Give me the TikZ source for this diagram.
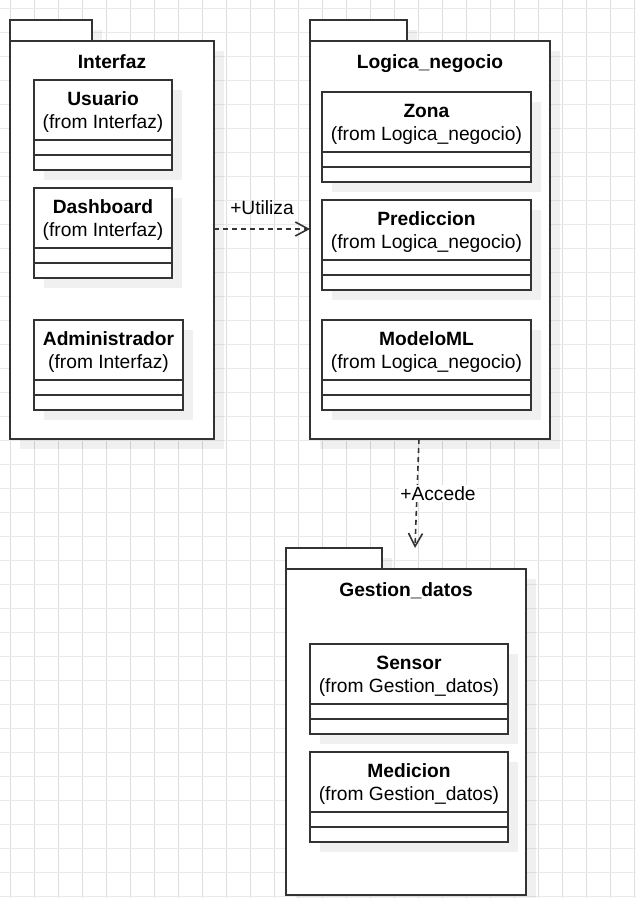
\documentclass[tikz,border=0pt]{standalone}
\usepackage{fontspec}
\setmainfont{Liberation Sans}
\usetikzlibrary{arrows.meta,positioning,shadows}

\definecolor{linec}{HTML}{333333}
\definecolor{gridv}{HTML}{DEDEDE}
\definecolor{gridh}{HTML}{EAEAEA}

\newcommand{\clsname}[1]{\rule{0pt}{18pt}\textbf{#1}}

\begin{document}
\begin{tikzpicture}[
    x=1pt, y=-1pt,
    font=\fontsize{19.2}{22.5}\selectfont,
    castshadow/.style={drop shadow={shadow xshift=10pt, shadow yshift=-10pt, fill=black, opacity=0.06}},
    pkgtab/.style={rectangle, draw=linec, fill=white, line width=1.6pt, inner sep=0pt, outer sep=0pt, anchor=north west, minimum height=21pt, castshadow},
    pkgbody/.style={rectangle, draw=linec, fill=white, line width=1.6pt, inner sep=0pt, outer sep=0pt, anchor=north west, castshadow},
    pkgname/.style={font=\fontsize{19.2}{22.5}\selectfont\bfseries, inner sep=0pt, anchor=base},
    clshead/.style={rectangle, draw=linec, fill=white, line width=1.6pt, inner sep=0pt, outer sep=0pt, align=center, anchor=north west, minimum height=60pt, castshadow},
    clscomp/.style={rectangle, draw=linec, fill=white, line width=1.6pt, inner sep=0pt, outer sep=0pt, minimum height=15pt, castshadow},
    dep/.style={draw=linec, line width=1.6pt, dash pattern=on 5pt off 4pt, -{Straight Barb[length=13pt, width=14pt]}}
]
\useasboundingbox (0,0) rectangle (636,898);
\fill[white] (0,0) rectangle (636,898);

% grid
\foreach \gx in {0,...,26}
  \draw[gridv, line width=1pt] (10.5+24*\gx,0) -- (10.5+24*\gx,898);
\foreach \gy in {0,...,37}
  \draw[gridh, line width=1pt] (0,8+24*\gy) -- (636,8+24*\gy);

% Interfaz
\node[pkgtab, minimum width=82pt] (ifztab) at (10,20) {};
\node[pkgbody, minimum width=204pt, minimum height=398pt] (ifz) at (ifztab.south west) {};
\node[pkgname] (ifzname) at ([yshift=-27pt]ifz.north) {Interfaz};

\node[clshead, minimum width=138pt] (usr) at (34,80) {\clsname{Usuario}\\(from Interfaz)};
\node[clscomp, minimum width=138pt, below=0pt of usr] (usr1) {};
\node[clscomp, minimum width=138pt, below=0pt of usr1] (usr2) {};

\node[clshead, minimum width=138pt] (dsh) at (34,188) {\clsname{Dashboard}\\(from Interfaz)};
\node[clscomp, minimum width=138pt, below=0pt of dsh] (dsh1) {};
\node[clscomp, minimum width=138pt, below=0pt of dsh1] (dsh2) {};

\node[clshead, minimum width=149pt] (adm) at (34,320) {\clsname{Administrador}\\(from Interfaz)};
\node[clscomp, minimum width=149pt, below=0pt of adm] (adm1) {};
\node[clscomp, minimum width=149pt, below=0pt of adm1] (adm2) {};

% Logica_negocio
\node[pkgtab, minimum width=97pt] (lgntab) at (310,20) {};
\node[pkgbody, minimum width=240pt, minimum height=398pt] (lgn) at (lgntab.south west) {};
\node[pkgname] (lgnname) at ([yshift=-27pt]lgn.north) {Logica\_negocio};

\node[clshead, minimum width=209pt] (zon) at (322,92) {\clsname{Zona}\\(from Logica\_negocio)};
\node[clscomp, minimum width=209pt, below=0pt of zon] (zon1) {};
\node[clscomp, minimum width=209pt, below=0pt of zon1] (zon2) {};

\node[clshead, minimum width=209pt] (prd) at (322,200) {\clsname{Prediccion}\\(from Logica\_negocio)};
\node[clscomp, minimum width=209pt, below=0pt of prd] (prd1) {};
\node[clscomp, minimum width=209pt, below=0pt of prd1] (prd2) {};

\node[clshead, minimum width=209pt] (mml) at (322,320) {\clsname{ModeloML}\\(from Logica\_negocio)};
\node[clscomp, minimum width=209pt, below=0pt of mml] (mml1) {};
\node[clscomp, minimum width=209pt, below=0pt of mml1] (mml2) {};

% Gestion_datos
\node[pkgtab, minimum width=96pt] (gsdtab) at (286,548) {};
\node[pkgbody, minimum width=240pt, minimum height=326pt] (gsd) at (gsdtab.south west) {};
\node[pkgname] (gsdname) at ([yshift=-27pt]gsd.north) {Gestion\_datos};

\node[clshead, minimum width=198pt] (sns) at (310,644) {\clsname{Sensor}\\(from Gestion\_datos)};
\node[clscomp, minimum width=198pt, below=0pt of sns] (sns1) {};
\node[clscomp, minimum width=198pt, below=0pt of sns1] (sns2) {};

\node[clshead, minimum width=198pt] (med) at (310,752) {\clsname{Medicion}\\(from Gestion\_datos)};
\node[clscomp, minimum width=198pt, below=0pt of med] (med1) {};
\node[clscomp, minimum width=198pt, below=0pt of med1] (med2) {};

% dependencies
\draw[dep] ([yshift=11pt]ifz.east) -- node[above=14pt, inner sep=0pt] (utl) {+Utiliza} ([yshift=11pt]lgn.west);
\draw[dep] ([xshift=-11pt]lgn.south) -- node[fill=white, inner sep=1pt, xshift=21pt] (acd) {+Accede} ([xshift=9pt, yshift=21pt]gsd.north);
\end{tikzpicture}
\end{document}
